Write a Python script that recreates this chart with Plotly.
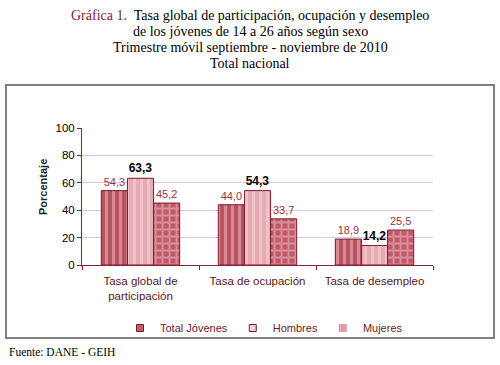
import plotly.graph_objects as go

categories = ["Tasa global de<br>participación", "Tasa de ocupación", "Tasa de desempleo"]
series_names = ["Total Jóvenes", "Hombres", "Mujeres"]
total = [54.3, 44.0, 18.9]
hombres = [63.3, 54.3, 14.2]
mujeres = [45.2, 33.7, 25.5]
y_ticks = [0, 20, 40, 60, 80, 100]

styles = [
    dict(bg="#b9505f", fg="#efc3c8", shape="|", tc="#9b3544", tb=False, ts=11,
         leg="#c45a6a", legline="#7a1c2c"),
    dict(bg="#e6aab2", fg="#f6dadd", shape="|", tc="#000000", tb=True, ts=12,
         leg="#f3d0d5", legline="#7a1c2c"),
    dict(bg="#c25a69", fg="#f0c6cb", shape="+", tc="#9b3544", tb=False, ts=11,
         leg="#e0a0aa", legline="#e0a0aa"),
]

fig = go.Figure()
for name, vals, st in zip(series_names, [total, hombres, mujeres], styles):
    fig.add_trace(go.Bar(
        x=categories, y=vals, name=name, showlegend=False,
        marker=dict(color=st["bg"], line=dict(color="#7a1c2c", width=1),
                    pattern=dict(shape=st["shape"], fgcolor=st["fg"], bgcolor=st["bg"],
                                 size=7, solidity=0.45, fillmode="overlay")),
        texttemplate="<b>%{y:.1f}</b>" if st["tb"] else "%{y:.1f}",
        textposition="outside", cliponaxis=False,
        textfont=dict(family="Liberation Sans, Arial", size=st["ts"], color=st["tc"]),
    ))
for name, st in zip(series_names, styles):
    fig.add_trace(go.Scatter(
        x=[None], y=[None], mode="markers", name=name,
        marker=dict(symbol="square", size=7, color=st["leg"],
                    line=dict(color=st["legline"], width=1)),
    ))

L, T, W, H = 82, 128, 351, 137
def px(x):
    return (x - L) / W
def py(y):
    return (T + H - y) / H

fig.update_layout(
    width=500, height=365,
    margin=dict(l=L, r=500 - L - W, t=T, b=365 - T - H, autoexpand=False),
    paper_bgcolor="white", plot_bgcolor="white",
    separators=",.",
    barmode="group", bargap=0.33, bargroupgap=0,
    font=dict(family="Liberation Sans, Arial", size=11, color="#000000"),
    showlegend=True,
    legend=dict(orientation="h", x=px(120), xanchor="left", y=py(328), yanchor="middle",
                font=dict(size=11, color="#6b1a2a"), itemwidth=30, tracegroupgap=0,
                bgcolor="rgba(0,0,0,0)"),
    xaxis=dict(showline=True, linecolor="#8b2232", linewidth=1,
               ticks="outside", tickcolor="#8b2232", ticklen=4,
               tickson="boundaries", automargin=False, ticklabelstandoff=5,
               tickfont=dict(size=11.5, color="#5c1522")),
    yaxis=dict(range=[0, 100], tickvals=y_ticks, showline=True, linecolor="#8b2232",
               linewidth=1, ticks="outside", tickcolor="#8b2232", ticklen=4,
               showgrid=True, gridcolor="#e3c6ca", gridwidth=1, automargin=False,
               tickfont=dict(size=11.5, color="#000000")),
    shapes=[dict(type="rect", xref="paper", yref="paper",
                 x0=px(6), x1=px(494), y0=py(338), y1=py(85),
                 line=dict(color="#808080", width=2), fillcolor="rgba(0,0,0,0)", layer="below")],
)

fig.add_annotation(text="<b>Porcentaje</b>", xref="paper", yref="paper", x=px(43), y=py(187),
                   xanchor="center", yanchor="middle", showarrow=False, textangle=-90,
                   font=dict(size=11, color="#222222"))

serif = "Liberation Serif, Times New Roman, serif"
title_lines = [
    "<span style='color:#7a1c3a'>Gráfica 1.</span>  Tasa global de participación, ocupación y desempleo",
    "de los jóvenes de 14 a 26 años según sexo",
    "Trimestre móvil septiembre - noviembre de 2010",
    "Total nacional",
]
for i, line in enumerate(title_lines):
    fig.add_annotation(text=line, xref="paper", yref="paper", x=px(250), y=py(15 + 16.3 * i),
                       xanchor="center", yanchor="middle", showarrow=False,
                       font=dict(family=serif, size=14, color="#000000"))
fig.add_annotation(text="Fuente: DANE - GEIH", xref="paper", yref="paper", x=px(7), y=py(352),
                   xanchor="left", yanchor="middle", showarrow=False,
                   font=dict(family=serif, size=11.5, color="#000000"))

fig.write_html("out.html", config={"displayModeBar": False},
               post_script="document.body.style.margin='0px';document.body.style.overflow='hidden';")
